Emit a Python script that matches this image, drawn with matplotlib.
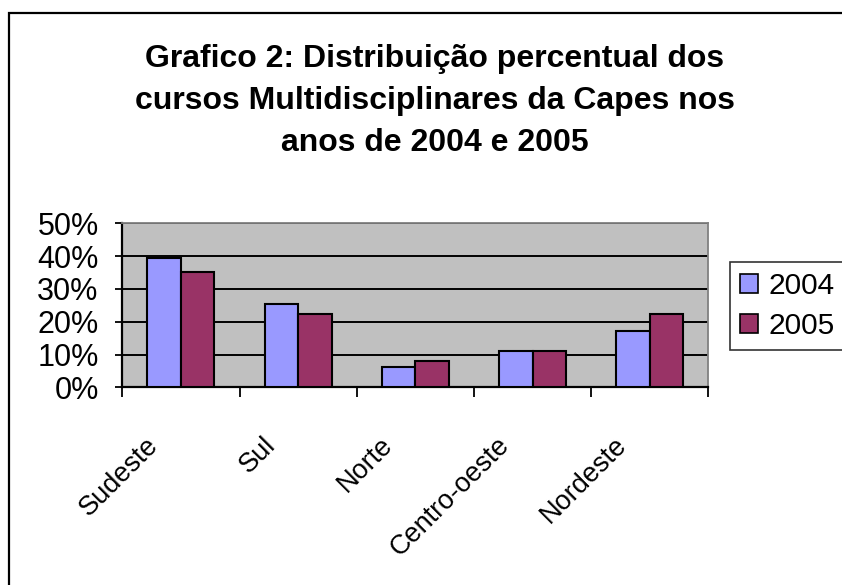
import matplotlib
matplotlib.use("Agg")
import matplotlib.pyplot as plt
import matplotlib.transforms as mtransforms
from matplotlib.patches import Rectangle
from matplotlib.ticker import FuncFormatter, FixedLocator
import numpy as np

plt.rcParams['font.family'] = ['Liberation Sans', 'DejaVu Sans']

categories = ["Sudeste", "Sul", "Norte", "Centro-oeste", "Nordeste"]
series_names = ["2004", "2005"]
values_2004 = [0.394, 0.254, 0.061, 0.110, 0.172]
values_2005 = [0.352, 0.222, 0.079, 0.110, 0.222]
title = "Grafico 2: Distribuição percentual dos\ncursos Multidisciplinares da Capes nos\nanos de 2004 e 2005"
colors = ["#9999FF", "#993366"]

W, H = 842, 585
fig = plt.figure(figsize=(W / 100, H / 100), dpi=100)
ax = fig.add_axes([122.3 / W, 1 - 387.3 / H, (708.3 - 122.3) / W, (387.3 - 223.3) / H])
ax.set_facecolor("#C0C0C0")

x = np.arange(len(categories))
bw = 1 / 3.5
ax.bar(x - bw / 2, values_2004, width=bw, color=colors[0], edgecolor="black", linewidth=1.5, label=series_names[0], zorder=3)
ax.bar(x + bw / 2, values_2005, width=bw, color=colors[1], edgecolor="black", linewidth=1.5, label=series_names[1], zorder=3)

ax.set_xlim(-0.5, len(categories) - 0.5)
ax.set_ylim(0, 0.5)
ax.set_yticks(np.arange(0, 0.51, 0.1))
ax.yaxis.set_major_formatter(FuncFormatter(lambda v, p: f"{int(round(v * 100))}%"))
ax.yaxis.grid(True, color="black", linewidth=1.4, zorder=1)
ax.set_axisbelow(True)
ax.tick_params(axis="y", direction="out", length=5, width=1.3, pad=12, labelsize=22, colors="black")

ax.set_xticks(x)
ax.set_xticklabels(categories, rotation=45, ha="right", va="top", rotation_mode="anchor", fontsize=19.5)
ax.tick_params(axis="x", which="major", length=0, pad=0)
ax.xaxis.set_minor_locator(FixedLocator(np.arange(-0.5, len(categories), 1.0)))
ax.tick_params(axis="x", which="minor", direction="out", length=7.2, width=1.3, color="black")
offset = mtransforms.ScaledTranslation(-0.36, -0.45, fig.dpi_scale_trans)
for lab in ax.get_xticklabels():
    lab.set_transform(lab.get_transform() + offset)

for s in ["top", "right"]:
    ax.spines[s].set_color("#808080")
    ax.spines[s].set_linewidth(1.3)
for s in ["left", "bottom"]:
    ax.spines[s].set_color("black")
    ax.spines[s].set_linewidth(1.6)

fig.text(435 / W, 1 - 101 / H, title, ha="center", va="center", fontsize=23,
         fontweight="bold", linespacing=1.52, multialignment="center")

leg = fig.legend(loc="upper left", bbox_to_anchor=(730 / W, 1 - 262 / H), borderaxespad=0,
                 fontsize=21.5, handlelength=0.6, handleheight=0.6, handletextpad=0.35,
                 labelspacing=0.42, borderpad=0.33, fancybox=False, frameon=True)
leg.get_frame().set_edgecolor("black")
leg.get_frame().set_linewidth(1.2)
for h in leg.legend_handles:
    h.set_edgecolor("black")
    h.set_linewidth(1.2)

fig.patches.append(Rectangle((9 / W, -0.1), 1.2, 1 - 13 / H + 0.1, transform=fig.transFigure,
                             fill=False, edgecolor="black", linewidth=1.6))

fig.savefig("out.png", dpi=100)
